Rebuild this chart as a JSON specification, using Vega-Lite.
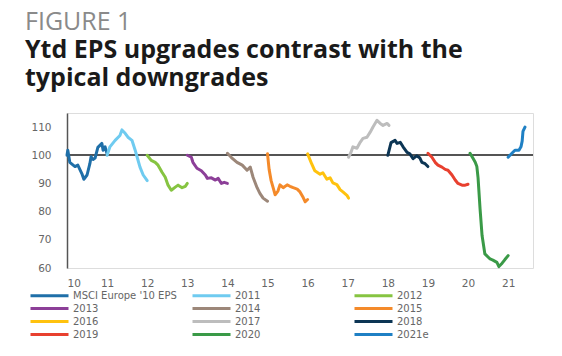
{
  "$schema": "https://vega.github.io/schema/vega-lite/v6.json",
  "width": 466,
  "height": 155,
  "autosize": {"type": "none"},
  "padding": {"left": 67, "top": 113, "right": 29, "bottom": 88},
  "background": "white",
  "title": {
    "text": "FIGURE 1",
    "subtitle": ["Ytd EPS upgrades contrast with the", "typical downgrades"],
    "anchor": "start",
    "frame": "group",
    "dx": -42,
    "offset": 22,
    "font": "Open Sans",
    "fontSize": 25,
    "fontWeight": "normal",
    "color": "#8a8a8a",
    "subtitleFont": "Open Sans",
    "subtitleFontSize": 25,
    "subtitleFontWeight": "bold",
    "subtitleColor": "#1a1a1a",
    "subtitleLineHeight": 28,
    "subtitlePadding": 3
  },
  "data": {
    "values": [
      {"s": "MSCI Europe '10 EPS", "x": 10.0, "y": 100},
      {"s": "MSCI Europe '10 EPS", "x": 10.02, "y": 101.8},
      {"s": "MSCI Europe '10 EPS", "x": 10.07, "y": 97.5},
      {"s": "MSCI Europe '10 EPS", "x": 10.2, "y": 96},
      {"s": "MSCI Europe '10 EPS", "x": 10.27, "y": 96.5},
      {"s": "MSCI Europe '10 EPS", "x": 10.37, "y": 93.5},
      {"s": "MSCI Europe '10 EPS", "x": 10.42, "y": 91.5},
      {"s": "MSCI Europe '10 EPS", "x": 10.5, "y": 93},
      {"s": "MSCI Europe '10 EPS", "x": 10.57, "y": 97},
      {"s": "MSCI Europe '10 EPS", "x": 10.6, "y": 99.5},
      {"s": "MSCI Europe '10 EPS", "x": 10.65, "y": 98.5},
      {"s": "MSCI Europe '10 EPS", "x": 10.7, "y": 99},
      {"s": "MSCI Europe '10 EPS", "x": 10.77, "y": 102.8},
      {"s": "MSCI Europe '10 EPS", "x": 10.87, "y": 104.2},
      {"s": "MSCI Europe '10 EPS", "x": 10.9, "y": 101.8},
      {"s": "MSCI Europe '10 EPS", "x": 10.95, "y": 103},
      {"s": "MSCI Europe '10 EPS", "x": 11.0, "y": 100.5},
      {"s": "2011", "x": 11.0, "y": 100},
      {"s": "2011", "x": 11.07, "y": 103},
      {"s": "2011", "x": 11.2, "y": 105.3},
      {"s": "2011", "x": 11.32, "y": 107},
      {"s": "2011", "x": 11.37, "y": 109},
      {"s": "2011", "x": 11.45, "y": 107.8},
      {"s": "2011", "x": 11.52, "y": 106.4},
      {"s": "2011", "x": 11.62, "y": 105.3},
      {"s": "2011", "x": 11.7, "y": 101.8},
      {"s": "2011", "x": 11.75, "y": 99.3},
      {"s": "2011", "x": 11.82, "y": 95.8},
      {"s": "2011", "x": 11.9, "y": 93},
      {"s": "2011", "x": 12.0, "y": 91},
      {"s": "2012", "x": 12.0, "y": 100},
      {"s": "2012", "x": 12.1, "y": 98.2},
      {"s": "2012", "x": 12.2, "y": 97.5},
      {"s": "2012", "x": 12.27, "y": 96.5},
      {"s": "2012", "x": 12.37, "y": 94},
      {"s": "2012", "x": 12.45, "y": 92.2},
      {"s": "2012", "x": 12.52, "y": 89.4},
      {"s": "2012", "x": 12.6, "y": 87.6},
      {"s": "2012", "x": 12.7, "y": 88.7},
      {"s": "2012", "x": 12.77, "y": 89.4},
      {"s": "2012", "x": 12.87, "y": 88.5},
      {"s": "2012", "x": 12.95, "y": 89},
      {"s": "2012", "x": 13.0, "y": 90},
      {"s": "2013", "x": 13.0, "y": 100},
      {"s": "2013", "x": 13.1, "y": 99.3},
      {"s": "2013", "x": 13.14, "y": 97.5},
      {"s": "2013", "x": 13.24, "y": 95.4},
      {"s": "2013", "x": 13.35, "y": 94.5},
      {"s": "2013", "x": 13.45, "y": 93},
      {"s": "2013", "x": 13.5, "y": 91.8},
      {"s": "2013", "x": 13.6, "y": 92},
      {"s": "2013", "x": 13.7, "y": 91.2},
      {"s": "2013", "x": 13.77, "y": 91.8},
      {"s": "2013", "x": 13.85, "y": 90},
      {"s": "2013", "x": 13.92, "y": 90.4},
      {"s": "2013", "x": 14.0, "y": 90},
      {"s": "2014", "x": 14.0, "y": 100.7},
      {"s": "2014", "x": 14.1, "y": 99.2},
      {"s": "2014", "x": 14.24, "y": 97.5},
      {"s": "2014", "x": 14.37, "y": 96.5},
      {"s": "2014", "x": 14.49, "y": 94.7},
      {"s": "2014", "x": 14.57, "y": 95.8},
      {"s": "2014", "x": 14.64, "y": 92.2},
      {"s": "2014", "x": 14.74, "y": 88.5},
      {"s": "2014", "x": 14.81, "y": 86.5},
      {"s": "2014", "x": 14.89, "y": 84.8},
      {"s": "2014", "x": 15.0, "y": 83.7},
      {"s": "2015", "x": 15.0, "y": 100.5},
      {"s": "2015", "x": 15.04, "y": 95},
      {"s": "2015", "x": 15.09, "y": 91},
      {"s": "2015", "x": 15.14, "y": 88.5},
      {"s": "2015", "x": 15.19, "y": 86},
      {"s": "2015", "x": 15.26, "y": 87.3},
      {"s": "2015", "x": 15.31, "y": 89.5},
      {"s": "2015", "x": 15.39, "y": 88.5},
      {"s": "2015", "x": 15.49, "y": 89.5},
      {"s": "2015", "x": 15.56, "y": 89},
      {"s": "2015", "x": 15.64, "y": 88.5},
      {"s": "2015", "x": 15.74, "y": 88},
      {"s": "2015", "x": 15.81, "y": 87},
      {"s": "2015", "x": 15.89, "y": 85},
      {"s": "2015", "x": 15.94, "y": 83.5},
      {"s": "2015", "x": 16.0, "y": 84.3},
      {"s": "2016", "x": 16.0, "y": 100.5},
      {"s": "2016", "x": 16.1, "y": 97},
      {"s": "2016", "x": 16.18, "y": 94.5},
      {"s": "2016", "x": 16.31, "y": 93.3},
      {"s": "2016", "x": 16.38, "y": 93.8},
      {"s": "2016", "x": 16.48, "y": 91.5},
      {"s": "2016", "x": 16.56, "y": 92},
      {"s": "2016", "x": 16.63, "y": 90.2},
      {"s": "2016", "x": 16.73, "y": 89.6},
      {"s": "2016", "x": 16.81, "y": 87.8},
      {"s": "2016", "x": 16.88, "y": 87},
      {"s": "2016", "x": 16.98, "y": 85.8},
      {"s": "2016", "x": 17.02, "y": 84.8},
      {"s": "2017", "x": 17.02, "y": 99.3},
      {"s": "2017", "x": 17.08, "y": 101},
      {"s": "2017", "x": 17.13, "y": 103},
      {"s": "2017", "x": 17.23, "y": 102.5},
      {"s": "2017", "x": 17.31, "y": 104.6},
      {"s": "2017", "x": 17.38, "y": 106},
      {"s": "2017", "x": 17.48, "y": 106.4},
      {"s": "2017", "x": 17.56, "y": 108.2},
      {"s": "2017", "x": 17.63, "y": 110},
      {"s": "2017", "x": 17.73, "y": 112.4},
      {"s": "2017", "x": 17.81, "y": 111.3},
      {"s": "2017", "x": 17.88, "y": 110.6},
      {"s": "2017", "x": 17.98, "y": 111.3},
      {"s": "2017", "x": 18.03, "y": 110.6},
      {"s": "2018", "x": 18.0, "y": 100},
      {"s": "2018", "x": 18.08, "y": 104.5},
      {"s": "2018", "x": 18.18, "y": 105.3},
      {"s": "2018", "x": 18.23, "y": 104.2},
      {"s": "2018", "x": 18.31, "y": 104.6},
      {"s": "2018", "x": 18.38, "y": 103},
      {"s": "2018", "x": 18.48, "y": 101},
      {"s": "2018", "x": 18.55, "y": 100.5},
      {"s": "2018", "x": 18.63, "y": 98.8},
      {"s": "2018", "x": 18.72, "y": 99.8},
      {"s": "2018", "x": 18.8, "y": 99},
      {"s": "2018", "x": 18.85, "y": 97.5},
      {"s": "2018", "x": 18.93, "y": 97},
      {"s": "2018", "x": 19.0, "y": 96},
      {"s": "2019", "x": 19.0, "y": 100.7},
      {"s": "2019", "x": 19.1, "y": 99.3},
      {"s": "2019", "x": 19.18, "y": 97.5},
      {"s": "2019", "x": 19.25, "y": 96.5},
      {"s": "2019", "x": 19.35, "y": 95.8},
      {"s": "2019", "x": 19.43, "y": 95},
      {"s": "2019", "x": 19.5, "y": 94.7},
      {"s": "2019", "x": 19.6, "y": 93},
      {"s": "2019", "x": 19.68, "y": 91.2},
      {"s": "2019", "x": 19.75, "y": 90},
      {"s": "2019", "x": 19.85, "y": 89.4},
      {"s": "2019", "x": 19.93, "y": 89.4},
      {"s": "2019", "x": 20.0, "y": 89.7},
      {"s": "2020", "x": 20.05, "y": 100.7},
      {"s": "2020", "x": 20.12, "y": 99},
      {"s": "2020", "x": 20.18, "y": 97.5},
      {"s": "2020", "x": 20.22, "y": 96},
      {"s": "2020", "x": 20.25, "y": 92},
      {"s": "2020", "x": 20.3, "y": 81},
      {"s": "2020", "x": 20.35, "y": 71.5},
      {"s": "2020", "x": 20.42, "y": 65},
      {"s": "2020", "x": 20.55, "y": 63.2},
      {"s": "2020", "x": 20.62, "y": 62.8},
      {"s": "2020", "x": 20.72, "y": 62},
      {"s": "2020", "x": 20.77, "y": 60.5},
      {"s": "2020", "x": 20.85, "y": 61.7},
      {"s": "2020", "x": 20.92, "y": 63},
      {"s": "2020", "x": 21.0, "y": 64.4},
      {"s": "2021e", "x": 21.0, "y": 99.3},
      {"s": "2021e", "x": 21.1, "y": 100.8},
      {"s": "2021e", "x": 21.17, "y": 101.8},
      {"s": "2021e", "x": 21.27, "y": 101.8},
      {"s": "2021e", "x": 21.32, "y": 103},
      {"s": "2021e", "x": 21.35, "y": 105},
      {"s": "2021e", "x": 21.37, "y": 108.5},
      {"s": "2021e", "x": 21.42, "y": 110}
    ]
  },
  "layer": [
    {
      "mark": {"type": "rule", "color": "#555555", "strokeWidth": 1.5},
      "encoding": {
        "y": {
          "datum": 100, "type": "quantitative",
          "scale": {"domain": [60, 115], "nice": false, "zero": false},
          "axis": {
            "title": null, "values": [60, 70, 80, 90, 100, 110],
            "domain": true, "domainColor": "#555555", "domainWidth": 1.5,
            "ticks": false, "grid": false,
            "labelFont": "DejaVu Sans", "labelFontSize": 10.5, "labelColor": "#666666",
            "labelPadding": 16, "labelOverlap": false
          }
        }
      }
    },
    {
      "mark": {"type": "line", "strokeWidth": 3, "strokeJoin": "round", "strokeCap": "round"},
      "encoding": {
        "x": {
          "field": "x", "type": "quantitative",
          "scale": {"domain": [10, 21.62], "nice": false, "zero": false},
          "axis": {
            "title": null, "values": [10, 11, 12, 13, 14, 15, 16, 17, 18, 19, 20, 21],
            "format": "d", "domain": false, "ticks": false, "grid": false,
            "labelFont": "DejaVu Sans", "labelFontSize": 10.5, "labelColor": "#666666",
            "labelPadding": 10, "labelOverlap": false
          }
        },
        "y": {
          "field": "y", "type": "quantitative",
          "scale": {"domain": [60, 115], "nice": false, "zero": false},
          "axis": {
            "title": null, "values": [60, 70, 80, 90, 100, 110],
            "domain": true, "domainColor": "#555555", "domainWidth": 1.5,
            "ticks": false, "grid": false,
            "labelFont": "DejaVu Sans", "labelFontSize": 10.5, "labelColor": "#666666",
            "labelPadding": 16, "labelOverlap": false
          }
        },
        "color": {
          "field": "s", "type": "nominal",
          "scale": {
            "domain": ["MSCI Europe '10 EPS", "2011", "2012", "2013", "2014", "2015", "2016", "2017", "2018", "2019", "2020", "2021e"],
            "range": ["#1f6fa8", "#6fcbf0", "#86c441", "#8c3f98", "#9c8779", "#f48a2a", "#ffc20e", "#bdbdbd", "#0c3554", "#e8402f", "#3a9a47", "#1f80c4"]
          },
          "legend": {
            "title": null,
            "orient": "none",
            "direction": "horizontal",
            "legendX": -38,
            "legendY": 176,
            "columns": 3,
            "gridAlign": "all",
            "columnPadding": 9,
            "rowPadding": 0,
            "symbolType": "M-1,0H6.6",
            "symbolSize": 100,
            "symbolStrokeWidth": 3,
            "labelFont": "DejaVu Sans",
            "labelFontSize": 10,
            "labelColor": "#666666",
            "labelOffset": 31,
            "labelLimit": 300
          }
        }
      }
    }
  ]
}
